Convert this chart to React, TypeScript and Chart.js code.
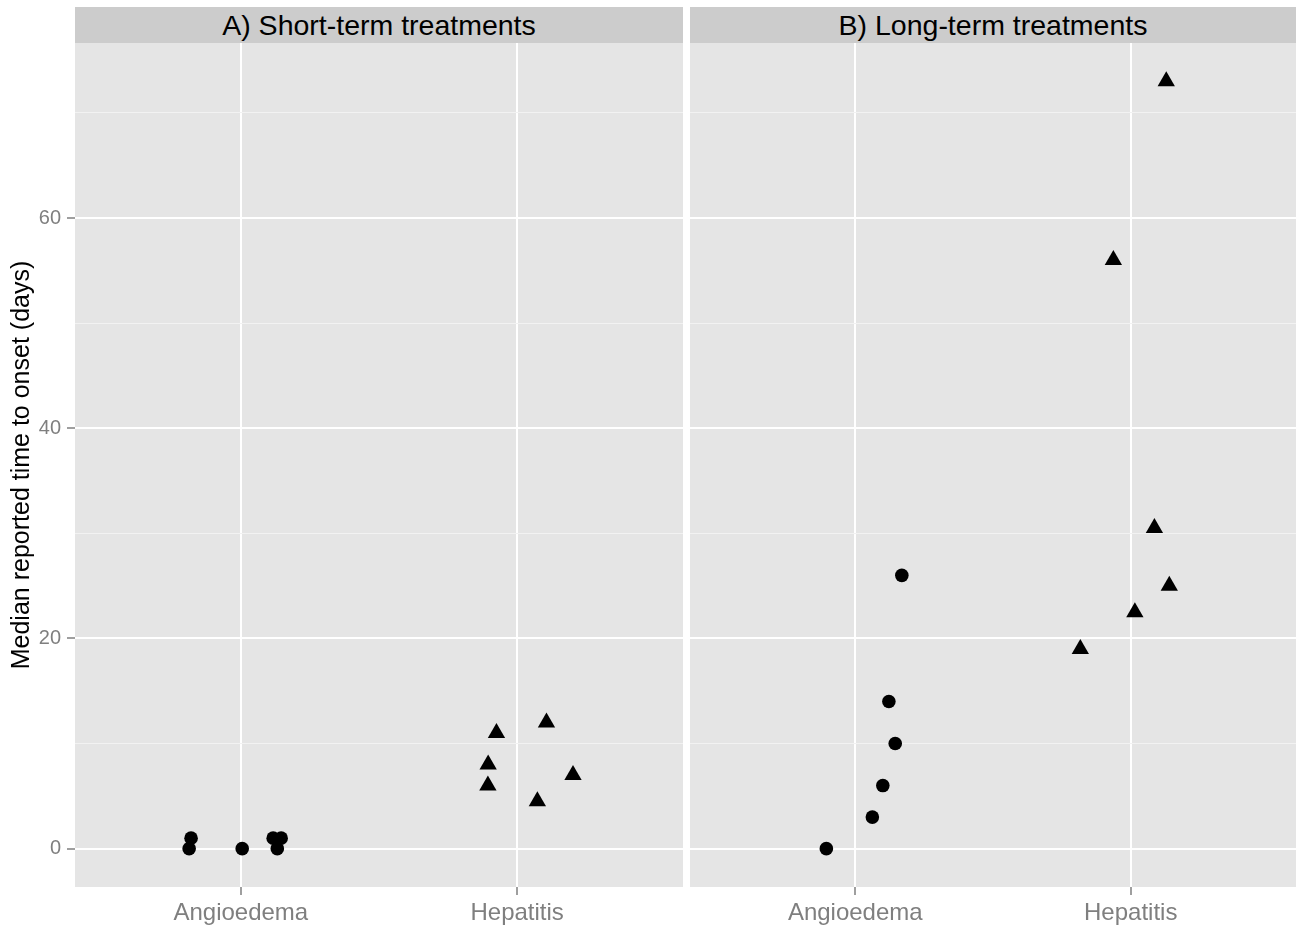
import React, { useEffect, useRef } from "react";
import { Chart, registerables } from "chart.js";

Chart.register(...registerables);

// ---- data ----
const categories = ["Angioedema", "Hepatitis"];
const panelTitles = ["A) Short-term treatments", "B) Long-term treatments"];
const yTickValues = [0, 10, 20, 30, 40, 50, 60, 70];
const yAxisTitle = "Median reported time to onset (days)";

// jittered category positions (1 = Angioedema, 2 = Hepatitis)
const shortAngioX = [0.813, 0.82, 1.005, 1.117, 1.146, 1.132];
const shortAngioY = [0, 1, 0, 1, 1, 0];
const shortHepX = [1.925, 2.106, 1.895, 1.894, 2.202, 2.073];
const shortHepY = [11, 12, 8, 6, 7, 4.5];

const longAngioX = [1.169, 1.122, 1.145, 1.1, 1.062, 0.895];
const longAngioY = [26, 14, 10, 6, 3, 0];
const longHepX = [2.086, 2.14, 2.015, 1.817, 2.129, 1.937];
const longHepY = [30.5, 25, 22.5, 19, 73, 56];

const Y_MIN = -3.65;
const Y_MAX = 76.65;
const X_MIN = 0.4;
const X_MAX = 2.6;

const FONT = "'Liberation Sans', Arial, Helvetica, sans-serif";

const toPoints = (xs: number[], ys: number[]) => xs.map((x, i) => ({ x, y: ys[i] }));

const panelBg = {
  id: "panelBg",
  beforeDraw(chart: any) {
    const { ctx, chartArea } = chart;
    ctx.save();
    ctx.fillStyle = "#E5E5E5";
    ctx.fillRect(chartArea.left, chartArea.top, chartArea.right - chartArea.left, chartArea.bottom - chartArea.top);
    ctx.restore();
  },
};

function makeConfig(
  angioX: number[],
  angioY: number[],
  hepX: number[],
  hepY: number[],
  showY: boolean
): any {
  return {
    type: "scatter",
    data: {
      datasets: [
        {
          label: categories[0],
          data: toPoints(angioX, angioY),
          pointStyle: "circle",
          pointRadius: 6.8,
          pointHoverRadius: 6.8,
          backgroundColor: "#000",
          borderWidth: 0,
        },
        {
          label: categories[1],
          data: toPoints(hepX, hepY),
          pointStyle: "triangle",
          pointRadius: 10,
          pointHoverRadius: 10,
          backgroundColor: "#000",
          borderWidth: 0,
        },
      ],
    },
    options: {
      animation: false,
      responsive: false,
      events: [],
      layout: { autoPadding: false, padding: { top: 43, left: 0, right: 0, bottom: 0 } },
      plugins: { legend: { display: false }, tooltip: { enabled: false } },
      scales: {
        x: {
          type: "linear",
          min: X_MIN,
          max: X_MAX,
          afterBuildTicks: (scale: any) => {
            scale.ticks = [{ value: 1 }, { value: 2 }];
          },
          afterFit: (scale: any) => {
            scale.height = 38;
          },
          border: { display: false },
          grid: {
            color: "#FFFFFF",
            lineWidth: 2,
            drawTicks: true,
            tickLength: 8,
            tickColor: "#7F7F7F",
            tickWidth: 1.5,
          },
          ticks: {
            autoSkip: false,
            maxRotation: 0,
            padding: 4,
            color: "#7F7F7F",
            font: { family: FONT, size: 24 },
            callback: (v: any) => categories[Math.round(Number(v)) - 1] ?? "",
          },
        },
        y: {
          type: "linear",
          min: Y_MIN,
          max: Y_MAX,
          afterBuildTicks: (scale: any) => {
            scale.ticks = yTickValues.map((v) => ({ value: v }));
          },
          afterFit: (scale: any) => {
            scale.width = showY ? 75 : 0;
          },
          border: { display: false },
          grid: {
            color: (c: any) => (c.tick && c.tick.value % 20 === 0 ? "#FFFFFF" : "#F2F2F2"),
            lineWidth: (c: any) => (c.tick && c.tick.value % 20 === 0 ? 2 : 1),
            drawTicks: showY,
            tickLength: 8,
            tickColor: (c: any) => (c.tick && c.tick.value % 20 === 0 ? "#7F7F7F" : "rgba(0,0,0,0)"),
            tickWidth: 1.5,
          },
          ticks: {
            display: showY,
            autoSkip: false,
            padding: 6,
            color: "#7F7F7F",
            font: { family: FONT, size: 20 },
            callback: (v: any) => (Number(v) % 20 === 0 ? String(v) : ""),
          },
          title: {
            display: showY,
            text: yAxisTitle,
            color: "#000000",
            font: { family: FONT, size: 25 },
            padding: { top: 7, bottom: 0 },
          },
        },
      },
    },
    plugins: [panelBg],
  };
}

function Panel(props: { left: number; width: number; config: any }) {
  const ref = useRef<HTMLCanvasElement | null>(null);
  useEffect(() => {
    if (!ref.current) return;
    const chart = new Chart(ref.current, props.config);
    return () => chart.destroy();
  }, []);
  return (
    <canvas
      ref={ref}
      width={props.width}
      height={925}
      style={{ position: "absolute", left: props.left, top: 0, width: props.width, height: 925 }}
    />
  );
}

function Strip(props: { left: number; width: number; text: string }) {
  return (
    <div
      style={{
        position: "absolute",
        left: props.left,
        top: 7,
        width: props.width,
        height: 36,
        background: "#CCCCCC",
        display: "flex",
        alignItems: "center",
        justifyContent: "center",
        fontFamily: FONT,
        fontSize: 28.5,
        color: "#000",
        whiteSpace: "nowrap",
      }}
    >
      {props.text}
    </div>
  );
}

export default function App() {
  const leftCfg = makeConfig(shortAngioX, shortAngioY, shortHepX, shortHepY, true);
  const rightCfg = makeConfig(longAngioX, longAngioY, longHepX, longHepY, false);
  return (
    <div style={{ position: "absolute", left: 0, top: 0, width: 1296, height: 925, background: "#FFFFFF" }}>
      <Panel left={0} width={683} config={leftCfg} />
      <Panel left={690} width={606} config={rightCfg} />
      <Strip left={75} width={608} text={panelTitles[0]} />
      <Strip left={690} width={606} text={panelTitles[1]} />
    </div>
  );
}
